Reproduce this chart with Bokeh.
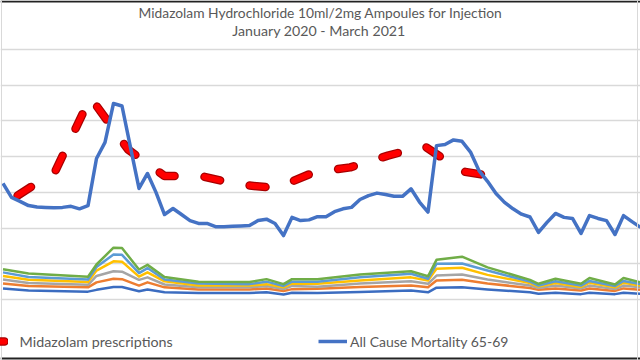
import pandas as pd
from bokeh.plotting import figure
from bokeh.models import Range1d, FixedTicker, Label, Legend, LegendItem, Span
from bokeh.embed import file_html
from bokeh.resources import INLINE

title_line1 = "Midazolam Hydrochloride 10ml/2mg Ampoules for Injection"
title_line2 = "January 2020 - March 2021"

# weekly series (week ending dates from first_week)
first_week = "2020-01-03"
mortality_65_69 = [
    325, 286, 275, 263, 259, 258, 257, 258, 261, 254,
    263, 395, 440, 549, 542, 426, 311, 353, 300, 238,
    255, 238, 221, 213, 213, 204, 204, 205, 206, 207,
    221, 225, 213, 179, 230, 221, 223, 232, 232, 246,
    254, 258, 280, 291, 298, 294, 289, 289, 310, 273,
    245, 431, 434, 447, 443, 413, 361, 331, 297, 272,
    254, 239, 231, 188, 216, 241, 230, 227, 185, 235,
    227, 221, 182, 235, 218, 202,
]

# monthly prescriptions
months = ["2020-01", "2020-02", "2020-03", "2020-04", "2020-05", "2020-06", "2020-07",
          "2020-08", "2020-09", "2020-10", "2020-11", "2020-12", "2021-01", "2021-02"]
midazolam = [291, 359, 566, 420, 346, 345, 322, 312, 356, 370, 403, 430, 359, 342]

# other series, read at these week numbers
key_weeks = [0, 3, 10, 11, 13, 14, 16, 17, 19, 23, 29, 31, 33, 34, 37, 42, 48, 50, 51,
             54, 57, 62, 63, 65, 68, 69, 72, 73, 75]
series_green = [85, 73, 64, 98, 145, 144, 84, 97, 63, 50, 49, 57, 43, 57, 57, 70, 79, 65, 111,
                120, 90, 55, 44, 58, 44, 60, 42, 60, 48]
series_lightblue = [76, 63, 56, 91, 126, 125, 74, 88, 56, 45, 43, 50, 38, 50, 50, 62, 72, 58, 100,
                    101, 81, 50, 39, 51, 39, 52, 38, 52, 43]
series_yellow = [66, 55, 49, 81, 107, 106, 64, 76, 51, 39, 39, 43, 34, 45, 44, 53, 62, 53, 86,
                 89, 69, 46, 36, 46, 35, 47, 34, 47, 39]
series_gray = [56, 46, 41, 66, 79, 78, 55, 62, 42, 34, 34, 38, 29, 38, 36, 45, 51, 44, 67,
               70, 56, 39, 32, 39, 31, 39, 29, 39, 34]
series_orange = [45, 38, 34, 48, 58, 57, 39, 48, 34, 28, 28, 31, 24, 29, 30, 35, 39, 34, 53,
                 55, 45, 32, 27, 31, 25, 31, 24, 31, 27]
series_darkblue = [31, 25, 22, 27, 35, 35, 23, 28, 20, 18, 18, 20, 14, 19, 18, 21, 25, 20, 33,
                   34, 28, 20, 16, 19, 15, 19, 15, 19, 16]

grid_values = [0, 100, 200, 300, 400, 500, 600, 700]

week_dates = pd.date_range(first_week, periods=len(mortality_65_69), freq="7D")
month_dates = pd.to_datetime(months) + pd.Timedelta(days=14)
key_dates = week_dates[key_weeks]

t0 = pd.Timestamp(first_week)
p = figure(width=640, height=360, output_backend="svg", toolbar_location=None,
           x_axis_type="datetime",
           x_range=Range1d(t0 + pd.Timedelta(days=-2.06), t0 + pd.Timedelta(days=525.0)),
           y_range=Range1d(-170.9, 837.5),
           min_border=0, min_border_left=0, min_border_right=0,
           min_border_top=0, min_border_bottom=0)
p.xaxis.visible = False
p.yaxis.visible = False
p.xgrid.visible = False
p.ygrid.ticker = FixedTicker(ticks=grid_values)
p.ygrid.grid_line_color = "#d9d9d9"
p.ygrid.grid_line_width = 1.5
p.outline_line_color = None
p.background_fill_color = "white"
p.border_fill_color = "white"

for vals, col in [(series_darkblue, "#3b6cc0"), (series_orange, "#ED7D31"),
                  (series_gray, "#A5A5A5"), (series_yellow, "#FFC000"),
                  (series_lightblue, "#5B9BD5"), (series_green, "#70AD47")]:
    p.line(key_dates, vals, line_color=col, line_width=2.5, line_join="round")

r_border = p.line(month_dates, midazolam, line_color="#A80000", line_width=8.5,
                  line_dash="16 30", line_cap="round", line_join="round")
r_red = p.line(month_dates, midazolam, line_color="#FF0000", line_width=6,
               line_dash="16 30", line_cap="round", line_join="round")
r_blue = p.line(week_dates, mortality_65_69, line_color="#4472C4", line_width=3.5,
                line_join="round")

common = dict(orientation="horizontal", padding=0, margin=0, glyph_height=20, label_height=20,
              label_text_font="Lato", label_text_color="#595959",
              border_line_color=None, background_fill_alpha=0)
leg1 = Legend(items=[LegendItem(label="Midazolam prescriptions", renderers=[r_border, r_red])],
              location=(-12.4, 9), glyph_width=20, label_standoff=12,
              label_text_font_size="14.3px", **common)
leg2 = Legend(items=[LegendItem(label="All Cause Mortality 65-69", renderers=[r_blue])],
              location=(318, 9), glyph_width=29, label_standoff=3,
              label_text_font_size="14px", **common)
p.add_layout(leg1)
p.add_layout(leg2)

p.add_layout(Label(x=320, y=348, x_units="screen", y_units="screen", text=title_line1,
                   text_align="center", text_baseline="middle", text_font="Lato",
                   text_font_size="13.8px", text_color="#595959"))
p.add_layout(Label(x=318.5, y=330, x_units="screen", y_units="screen", text=title_line2,
                   text_align="center", text_baseline="middle", text_font="Lato",
                   text_font_size="14.2px", text_color="#595959"))

# frame edges of the original picture
p.add_layout(Span(location=359, location_units="screen", dimension="width",
                  line_color="#222222", line_width=2))
p.add_layout(Span(location=2, location_units="screen", dimension="width",
                  line_color="#222222", line_width=2))
p.add_layout(Span(location=1, location_units="screen", dimension="height",
                  line_color="#d9d9d9", line_width=1))
p.add_layout(Span(location=637, location_units="screen", dimension="height",
                  line_color="#d9d9d9", line_width=1))

open("out.html", "w").write(file_html(p, INLINE))
